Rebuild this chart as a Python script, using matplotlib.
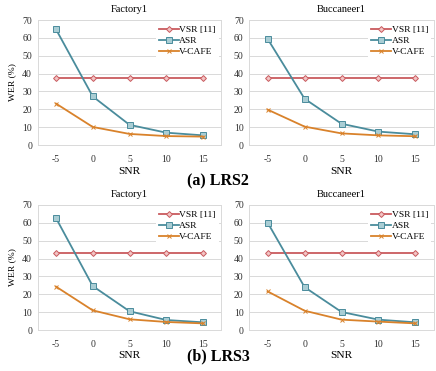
import matplotlib
matplotlib.use('Agg')
import matplotlib.pyplot as plt

plt.rcParams['font.family'] = ['Liberation Serif', 'DejaVu Serif']

snr = ['-5', '0', '5', '10', '15']
series = ['VSR [11]', 'ASR', 'V-CAFE']

# LRS2
lrs2_factory_vsr = [37.8, 37.8, 37.8, 37.8, 37.8]
lrs2_factory_asr = [64.8, 27.2, 11.3, 6.9, 5.4]
lrs2_factory_vcafe = [23.2, 10.1, 6.2, 5.0, 4.7]
lrs2_bucc_vsr = [37.8, 37.8, 37.8, 37.8, 37.8]
lrs2_bucc_asr = [59.4, 25.9, 11.9, 7.5, 6.0]
lrs2_bucc_vcafe = [19.8, 10.3, 6.5, 5.4, 4.9]

# LRS3
lrs3_factory_vsr = [43.3, 43.3, 43.3, 43.3, 43.3]
lrs3_factory_asr = [62.7, 24.6, 10.5, 5.6, 4.3]
lrs3_factory_vcafe = [24.3, 11.0, 6.0, 4.5, 3.7]
lrs3_bucc_vsr = [43.4, 43.4, 43.4, 43.4, 43.4]
lrs3_bucc_asr = [60.1, 24.0, 10.1, 5.8, 4.3]
lrs3_bucc_vcafe = [21.6, 10.8, 5.8, 4.7, 3.7]

W, H = 436, 371
fig = plt.figure(figsize=(W / 100, H / 100), dpi=100)

grid_c = '#D9D9D9'
styles = [
    dict(color='#C95A5E', marker='D', markersize=3.0, markerfacecolor='#F2C4C4', markeredgewidth=0.7),
    dict(color='#4A8C9C', marker='s', markersize=4.8, markerfacecolor='#A9CDD4', markeredgewidth=0.7),
    dict(color='#D9822B', marker='x', markersize=3.3, markeredgewidth=0.7),
]


def panel(rect, title, vals, ylabel):
    x0, x1, ytop, ybot = rect
    ax = fig.add_axes([x0 / W, 1 - ybot / H, (x1 - x0) / W, (ybot - ytop) / H])
    xs = range(len(snr))
    for name, v, st in zip(series, vals, styles):
        ax.plot(xs, v, label=name, linewidth=1.3, **st)
    ax.set_xlim(-0.5, len(snr) - 0.5)
    ax.set_ylim(0, 70)
    ax.set_yticks(range(0, 71, 10))
    ax.set_xticks(list(xs), labels=snr)
    ax.tick_params(length=0, labelsize=7.0, colors='#303030', pad=4)
    ax.tick_params(axis='x', pad=7)
    ax.grid(axis='y', color=grid_c, linewidth=0.7)
    ax.set_axisbelow(True)
    for s in ax.spines.values():
        s.set_color(grid_c)
        s.set_linewidth(0.7)
    ax.set_title(title, fontsize=7.5, pad=6)
    ax.set_xlabel('SNR', fontsize=8.2, labelpad=2)
    if ylabel:
        ax.set_ylabel('WER (%)', fontsize=6.8, labelpad=4)
    leg = ax.legend(loc='upper right', fontsize=6.8, frameon=True, framealpha=1,
                    edgecolor='none', handlelength=2.1, handletextpad=0.05,
                    labelspacing=0.25, borderpad=0.3, borderaxespad=0.3)
    leg.get_frame().set_linewidth(0)
    return ax


panel((37.6, 221.4, 20, 145), 'Factory1',
      [lrs2_factory_vsr, lrs2_factory_asr, lrs2_factory_vcafe], True)
panel((249.2, 433.8, 20, 145), 'Buccaneer1',
      [lrs2_bucc_vsr, lrs2_bucc_asr, lrs2_bucc_vcafe], False)
panel((37.6, 221.4, 205, 330), 'Factory1',
      [lrs3_factory_vsr, lrs3_factory_asr, lrs3_factory_vcafe], True)
panel((249.2, 433.8, 205, 330), 'Buccaneer1',
      [lrs3_bucc_vsr, lrs3_bucc_asr, lrs3_bucc_vcafe], False)

fig.text(218 / W, 1 - 181 / H, '(a) LRS2', ha='center', va='center',
         fontsize=11.5, fontweight='bold')
fig.text(218 / W, 1 - 356 / H, '(b) LRS3', ha='center', va='center',
         fontsize=11.5, fontweight='bold')

fig.savefig('out.png', dpi=100)
